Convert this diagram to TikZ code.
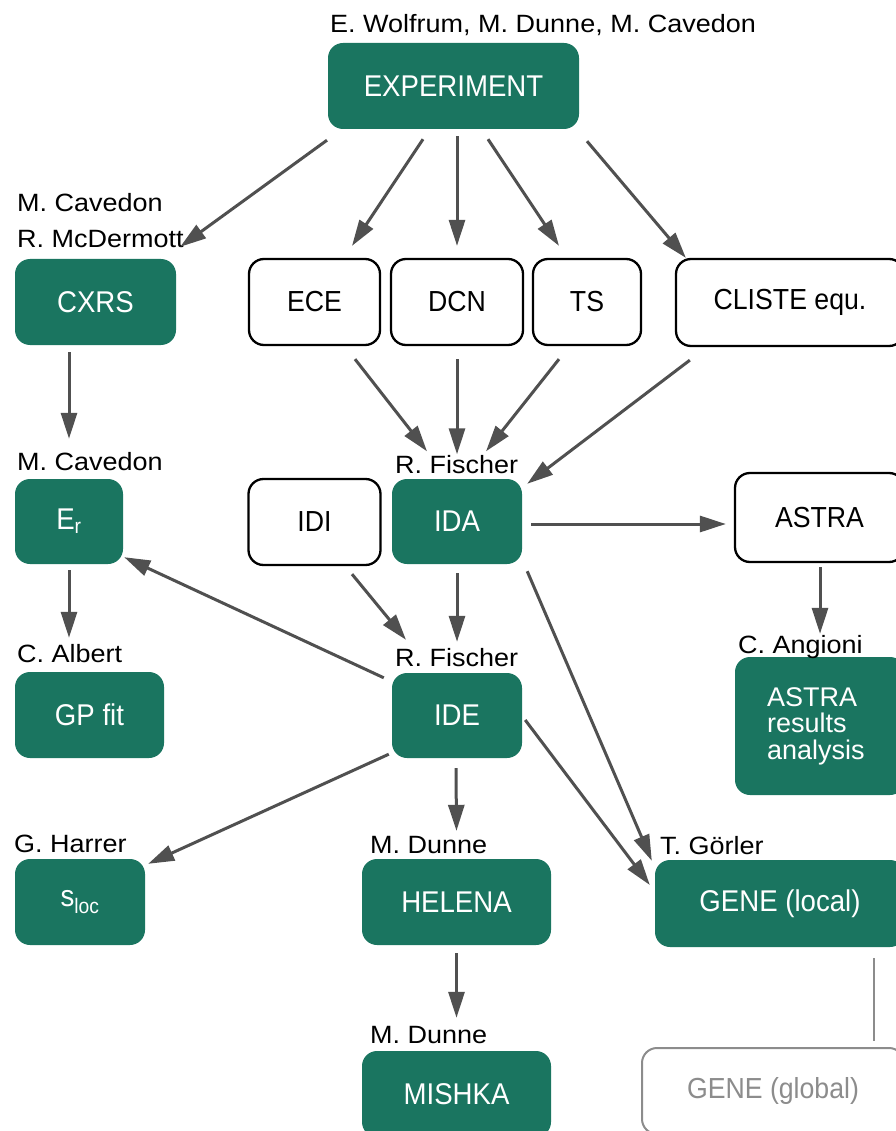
\documentclass[tikz,border=0pt]{standalone}
\usepackage{fontspec}
\setmainfont{Liberation Sans}
\newfontfamily\boxfont[FakeStretch=0.92]{Liberation Sans}
\newfontfamily\whofont[FakeStretch=1.08]{Liberation Sans}
\usetikzlibrary{arrows.meta,calc}
\definecolor{boxgreen}{RGB}{26,117,96}
\definecolor{arrgray}{RGB}{80,80,80}
\definecolor{lightgray}{RGB}{140,140,140}
\begin{document}
\begin{tikzpicture}[x=1pt,y=-1pt,
  gbox/.style={fill=boxgreen, text=white, rounded corners=15pt, inner sep=0pt,
    font=\boxfont\fontsize{30}{34}\selectfont},
  wbox/.style={draw=black, line width=2.3pt, fill=white, text=black, rounded corners=15pt, inner sep=0pt,
    font=\boxfont\fontsize{29}{34}\selectfont},
  graybox/.style={draw=lightgray, line width=2pt, text=lightgray, rounded corners=15pt, inner sep=0pt,
    font=\boxfont\fontsize{29}{34}\selectfont},
  who/.style={anchor=base west, inner sep=0pt, font=\whofont\fontsize{25}{30}\selectfont},
  arr/.style={draw=arrgray, line width=3pt, -{Triangle[length=26pt,width=16pt]}},
  thin/.style={draw=lightgray, line width=2pt}
]
\useasboundingbox (0,0) rectangle (895,1131);

% nodes
\node[gbox, minimum width=251pt, minimum height=86pt] (exp) at (453.5,86) {EXPERIMENT};
\node[gbox, minimum width=161pt, minimum height=86pt] (cxrs) at (95.5,302) {CXRS};
\node[wbox, minimum width=131pt, minimum height=86pt] (ece) at (314.5,302) {ECE};
\node[wbox, minimum width=132pt, minimum height=86pt] (dcn) at (457,302) {DCN};
\node[wbox, minimum width=108pt, minimum height=86pt] (ts) at (587,302) {TS};
\node[wbox, minimum width=228pt, minimum height=87pt] (cliste) at (790,302.5) {CLISTE equ.};
\node[gbox, minimum width=108pt, minimum height=85pt] (er) at (69,521.5) {E\textsubscript{r}};
\node[wbox, minimum width=132pt, minimum height=86pt] (idi) at (314.5,522) {IDI};
\node[gbox, minimum width=130pt, minimum height=85pt] (ida) at (457,521.5) {IDA};
\node[wbox, minimum width=169pt, minimum height=89pt] (astra) at (819.5,517.5) {ASTRA};
\node[gbox, minimum width=149pt, minimum height=86pt] (gpfit) at (89.5,715) {GP fit};
\node[gbox, minimum width=130pt, minimum height=85pt] (ide) at (457,715.5) {IDE};
\node[gbox, minimum width=170pt, minimum height=138pt, text width=106pt, align=left,
  font=\fontsize{27}{26.6}\selectfont] (ara) at (820,726) {ASTRA\\results\\analysis};
\node[gbox, minimum width=130pt, minimum height=86pt] (sloc) at (80,902) {s\textsubscript{loc}};
\node[gbox, minimum width=189pt, minimum height=86pt] (helena) at (456.5,902) {HELENA};
\node[gbox, minimum width=250pt, minimum height=87pt] (genel) at (780,903.5) {GENE (local)};
\node[gbox, minimum width=189pt, minimum height=86pt] (mishka) at (456.5,1094) {MISHKA};
\node[graybox, minimum width=262pt, minimum height=86pt] (geneg) at (773,1091) {GENE (global)};

% labels
\node[who] (l-exp) at (330,33) {E. Wolfrum, M. Dunne, M. Cavedon};
\node[who] (l-cxrs1) at (17,212) {M. Cavedon};
\node[who] (l-cxrs2) at (17,248) {R. McDermott};
\node[who] (l-er) at (17,470) {M. Cavedon};
\node[who] (l-ida) at (395,473) {R. Fischer};
\node[who] (l-gp) at (17,662) {C. Albert};
\node[who] (l-ide) at (395,666) {R. Fischer};
\node[who] (l-ara) at (738,653) {C. Angioni};
\node[who] (l-sloc) at (14,852) {G. Harrer};
\node[who] (l-hel) at (370,853) {M. Dunne};
\node[who] (l-gen) at (660,854) {T. Görler};
\node[who] (l-mis) at (370,1043) {M. Dunne};

% connectors
\draw[arr] ($(exp.south)+(-126.5,11)$) -- ($(cxrs.north east)+(4,-12)$);
\draw[arr] ($(exp.south)+(-30.5,10)$) -- ($(ece.north)+(37.5,-12)$);
\draw[arr] ($(exp.south)+(3.5,7)$) -- ($(dcn.north)+(0,-12)$);
\draw[arr] ($(exp.south)+(34.5,10)$) -- ($(ts.north)+(-28,-12)$);
\draw[arr] ($(exp.south)+(133.5,12)$) -- ($(cliste.north west)+(11,0)$);
\draw[arr] ($(ece.south)+(40.5,13)$) -- ($(ida.north)+(-30,-27.5)$);
\draw[arr] ($(dcn.south)+(0,13)$) -- ($(ida.north)+(0,-24.5)$);
\draw[arr] ($(ts.south)+(-28,13)$) -- ($(ida.north)+(29,-27.5)$);
\draw[arr] ($(cliste.south west)+(15,13)$) -- ($(ida.north east)+(5,5)$);
\draw[arr] ($(cxrs.south)+(-26.5,7)$) -- ($(er.north)+(0,-40)$);
\draw[arr] ($(ida.east)+(9,2.5)$) -- ($(astra.west)+(-8,6.5)$);
\draw[arr] ($(astra.south)+(0.5,4)$) -- ($(ara.north)+(0,-23)$);
\draw[arr] ($(er.south)+(0,6)$) -- ($(gpfit.north)+(-20.5,-34)$);
\draw[arr] ($(idi.south)+(37.5,8)$) -- ($(ide.north)+(-51,-33)$);
\draw[arr] ($(ida.south)+(0,9)$) -- ($(ide.north)+(0,-31)$);
\draw[arr] ($(ide.north west)+(-8,5)$) -- ($(er.south east)+(1,-7)$);
\draw[arr] ($(ida.south east)+(5,7)$) -- ($(genel.north west)+(-3,1)$);
\draw[arr] ($(ide.east)+(3,4.5)$) -- ($(genel.west)+(-5,-18.5)$);
\draw[arr] ($(ide.south west)+(-3,-4)$) -- ($(sloc.north east)+(3,5)$);
\draw[arr] ($(ide.south)+(-1,10)$) -- ($(helena.north)+(0,-28)$);
\draw[arr] ($(helena.south)+(0,8)$) -- ($(mishka.north)+(0,-33)$);
\draw[thin] ($(genel.south)+(94,11)$) -- ($(geneg.north)+(101,-6)$);
\end{tikzpicture}
\end{document}
